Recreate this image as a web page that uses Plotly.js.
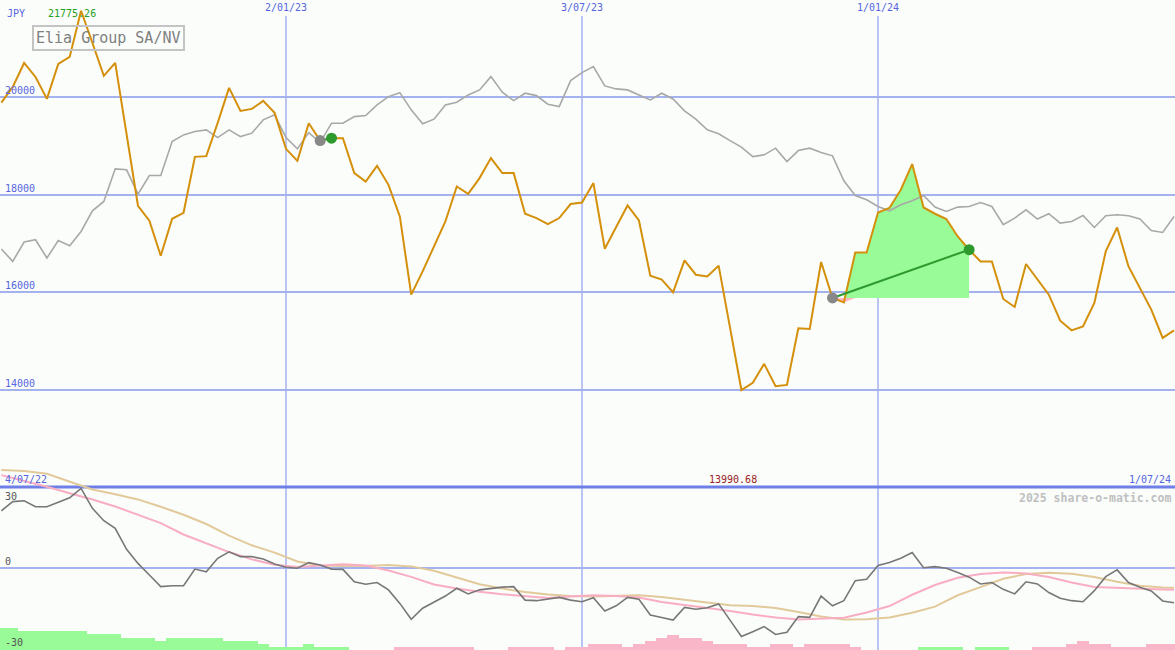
<!DOCTYPE html>
<html>
<head>
<meta charset="utf-8">
<script src="https://cdn.plot.ly/plotly-3.0.1.min.js"></script>
<style>html,body{margin:0;padding:0;background:#fbfdfb;}#chart{width:1175px;height:650px;}</style>
</head>
<body>
<div id="chart"></div>
<script>
// Weekly dates
const weeks = [
'2022-07-11','2022-07-18','2022-07-25','2022-08-01','2022-08-08','2022-08-15','2022-08-22','2022-08-29','2022-09-05','2022-09-12',
'2022-09-19','2022-09-26','2022-10-03','2022-10-10','2022-10-17','2022-10-24','2022-10-31','2022-11-07','2022-11-14','2022-11-21',
'2022-11-28','2022-12-05','2022-12-12','2022-12-19','2022-12-26',
'2023-01-02','2023-01-09','2023-01-16','2023-01-23','2023-01-30','2023-02-06','2023-02-13','2023-02-20','2023-02-27','2023-03-06',
'2023-03-13','2023-03-20','2023-03-27','2023-04-03','2023-04-10','2023-04-17','2023-04-24','2023-05-01','2023-05-08','2023-05-15',
'2023-05-22','2023-05-29','2023-06-05','2023-06-12','2023-06-19','2023-06-26','2023-07-03','2023-07-10','2023-07-17','2023-07-24',
'2023-07-31','2023-08-07','2023-08-14','2023-08-21','2023-08-28','2023-09-04','2023-09-11','2023-09-18','2023-09-25','2023-10-02',
'2023-10-09','2023-10-16','2023-10-23','2023-10-30','2023-11-06','2023-11-13','2023-11-20','2023-11-27','2023-12-04','2023-12-11',
'2023-12-18','2023-12-25',
'2024-01-01','2024-01-08','2024-01-15','2024-01-22','2024-01-29','2024-02-05','2024-02-12','2024-02-19','2024-02-26','2024-03-04',
'2024-03-11','2024-03-18','2024-03-25','2024-04-01','2024-04-08','2024-04-15','2024-04-22','2024-04-29','2024-05-06','2024-05-13',
'2024-05-20','2024-05-27','2024-06-03','2024-06-10','2024-06-17','2024-06-24','2024-07-01'];

// Share price (JPY)
const price = [
19889,20211,20703,20416,19965,20683,20826,21775.26,21113,20437,
20703,19233,17772,17464,16747,17505,17628,18776,18790,19473,
20191,19719,19760,19924,19678,18940,18694,19467,19110,19160,
19160,18442,18270,18592,18202,17552,15947,16425,16937,17450,
18167,18018,18340,18750,18442,18442,17608,17520,17397,17520,
17807,17839,18237,16890,17335,17778,17470,16337,16255,15994,
16650,16357,16322,16542,15271,13990.68,14137,14527,14067,14096,
15256,15244,16618,15880,15789,16814,16814,17634,17725,18100,
18627,17737,17608,17499,17142,16870,16630,16630,15859,15695,
16577,16255,15947,15414,15215,15297,15777,16835,17327,16527,
16085,15640,15060,15215];

// Relative (index) line on price scale
const relative = [
16884,16630,17027,17075,16699,17060,16952,17245,17669,17860,
18530,18510,18011,18393,18393,19090,19227,19295,19330,19172,
19330,19192,19262,19535,19637,19172,18940,19274,19069,19467,
19467,19602,19623,19842,20012,20094,19740,19453,19549,19842,
19897,20047,20150,20422,20103,19930,20082,20033,19856,19807,
20340,20504,20627,20232,20170,20150,20047,19945,20082,19965,
19719,19549,19330,19248,19110,18975,18782,18817,18954,18680,
18905,18954,18864,18797,18284,17983,17895,17757,17669,17792,
17874,17983,17745,17655,17745,17757,17839,17757,17382,17519,
17690,17499,17608,17417,17450,17573,17327,17567,17587,17567,
17499,17265,17224,17552];

// Lower panel: momentum (gray)
const momentum = [
21.2,24.6,24.9,22.7,22.7,24.3,26.0,29.5,22.1,17.5,
14.7,6.9,1.7,-2.6,-6.9,-6.6,-6.6,-0.4,-1.4,3.6,
6.0,4.2,4.2,3.3,1.5,0.3,-0.1,2.0,1.1,-0.4,
-0.5,-5.1,-6.0,-5.4,-8.1,-13.1,-19.0,-14.9,-12.5,-10.4,
-7.5,-9.6,-8.1,-7.5,-7.1,-6.9,-11.9,-12.1,-11.6,-10.9,
-11.9,-12.5,-11.0,-15.9,-14.0,-10.9,-11.6,-17.4,-18.3,-19.3,
-14.6,-15.3,-14.7,-13.3,-19.3,-25.4,-23.6,-21.7,-24.6,-23.8,
-18.0,-18.3,-10.4,-14.0,-12.1,-4.7,-4.2,0.9,2.0,3.6,
5.7,0.1,0.5,-0.1,-1.7,-3.4,-5.9,-5.4,-7.9,-9.6,
-5.1,-5.9,-9.1,-11.2,-12.1,-12.5,-8.4,-3.2,-0.7,-5.4,
-7.1,-8.5,-12.2,-12.9];

// Moving averages (read every second week, plus last week)
const maWeekIdx = [0,2,4,6,8,10,12,14,16,18,20,22,24,26,28,30,32,34,36,38,40,42,44,46,48,50,
52,54,56,58,60,62,64,66,68,70,72,74,76,78,80,82,84,86,88,90,92,94,96,98,100,102,103];
const maPink = [34.4,32.3,30.1,27.7,25.4,22.8,19.8,16.6,12.4,9.1,5.9,3.2,1.2,0.4,1.0,1.4,0.9,-0.9,-3.3,-6.1,
-7.6,-8.8,-9.7,-10.4,-11.1,-10.6,-10.1,-10.4,-10.9,-12.6,-13.7,-14.7,-15.9,-17.2,-18.3,-19.1,-18.7,-18.4,-16.5,-14.1,
-9.9,-6.3,-3.6,-2.2,-1.7,-2.0,-3.3,-5.4,-7.0,-7.4,-7.7,-8.0,-8.1];
const maTan = [36.3,35.9,34.9,32.0,29.1,27.3,25.4,22.7,19.7,16.3,12.0,8.4,5.7,2.4,0.9,0.7,0.7,1.1,0.6,-1.0,
-3.4,-6.0,-7.6,-8.9,-9.8,-10.4,-10.6,-10.4,-10.1,-10.7,-11.7,-12.7,-13.8,-14.1,-14.8,-16.3,-18.0,-19.1,-19.0,-18.3,
-16.6,-14.3,-10.1,-7.1,-4.0,-2.2,-1.8,-2.1,-3.3,-5.1,-6.6,-7.2,-7.3];

// Histogram: positive = green, negative = pink
const hist = [
8.3,8.3,7.0,7.0,7.0,7.0,7.0,7.0,5.8,5.8,
5.8,4.6,4.6,4.6,3.4,4.6,4.6,4.6,4.6,4.6,
3.4,3.4,3.4,2.3,1.1,1.1,1.1,2.3,1.1,1.1,
1.1,0,0,0,0,-1.1,-1.1,-1.1,-1.1,-1.1,
-1.1,-1.1,0,0,0,-1.1,-1.1,-1.1,-1.1,0,
-1.1,-1.1,-2.3,-2.3,-2.3,-1.1,-2.3,-3.4,-4.6,-5.7,
-4.6,-4.6,-3.4,-2.3,-2.3,-2.3,-1.1,-1.1,-2.3,-2.3,
-1.1,-2.3,-2.3,-2.3,-2.3,-1.1,0,0,0,0,
0,1.1,1.1,1.1,1.1,0,1.1,1.1,1.1,0,
0,-1.1,-1.1,-1.1,-2.3,-3.4,-2.3,-2.3,-1.1,-1.1,
-1.1,-2.3,-2.3,-2.3];

// Signals: [start week index, end week index]
const signals = [[28,29],[73,85]];

// Axis ticks / labels
const priceTicks = [14000,16000,18000,20000];
const lowerTicks = [30,0,-30];
const dateTicks = ['2023-01-02','2023-07-03','2024-01-01'];
const dateTickText = ['2/01/23','3/07/23','1/01/24'];
const startLabel = '4/07/22', endLabel = '1/07/24';
const currency = 'JPY';
const title = 'Elia Group SA/NV';
const credit = '2025 share-o-matic.com';

const BG = '#fbfdfb';
const BLUE_TXT = '#5566e0';
const GRID = '#a4b2f0';
const MONO = 'DejaVu Sans Mono, Liberation Mono, monospace';
const Y2_BOTTOM = -30.37;

const traces = [];

// signal fills
signals.forEach(([s, e]) => {
  const xs = weeks.slice(s, e + 1);
  const seg = price.slice(s, e + 1);
  const base = seg.map(() => price[s]);
  const up = seg.map(v => Math.max(v, price[s]));
  const dn = seg.map(v => Math.min(v, price[s]));
  traces.push({x: xs, y: base, type: 'scatter', mode: 'lines', line: {width: 0}, hoverinfo: 'skip'});
  traces.push({x: xs, y: up, type: 'scatter', mode: 'lines', line: {width: 0}, fill: 'tonexty', fillcolor: '#98fb98', hoverinfo: 'skip'});
  traces.push({x: xs, y: base, type: 'scatter', mode: 'lines', line: {width: 0}, hoverinfo: 'skip'});
  traces.push({x: xs, y: dn, type: 'scatter', mode: 'lines', line: {width: 0}, fill: 'tonexty', fillcolor: '#ffb6c1', hoverinfo: 'skip'});
});

traces.push({x: weeks, y: relative, type: 'scatter', mode: 'lines', line: {color: '#a8a8a8', width: 1.6}});
traces.push({x: weeks, y: price, type: 'scatter', mode: 'lines', line: {color: '#d4900a', width: 2}});

signals.forEach(([s, e]) => {
  traces.push({x: [weeks[s], weeks[e]], y: [price[s], price[e]], type: 'scatter', mode: 'lines',
    line: {color: '#2e9a2e', width: 2}});
  traces.push({x: [weeks[s]], y: [price[s]], type: 'scatter', mode: 'markers',
    marker: {color: '#888888', size: 11}});
  traces.push({x: [weeks[e]], y: [price[e]], type: 'scatter', mode: 'markers',
    marker: {color: '#2e9a2e', size: 11}});
});

// lower panel
traces.push({x: weeks, y: hist.map(Math.abs), base: Y2_BOTTOM, type: 'bar', yaxis: 'y2',
  width: 7 * 24 * 3600 * 1000,
  marker: {color: hist.map(v => v >= 0 ? '#98fb98' : '#f9b6c9'), line: {width: 0}}});
const maWeeks = maWeekIdx.map(i => weeks[i]);
traces.push({x: maWeeks, y: maTan, type: 'scatter', mode: 'lines', yaxis: 'y2', line: {color: '#e2c99a', width: 2}});
traces.push({x: maWeeks, y: maPink, type: 'scatter', mode: 'lines', yaxis: 'y2', line: {color: '#f9adc3', width: 2}});
traces.push({x: weeks, y: momentum, type: 'scatter', mode: 'lines', yaxis: 'y2', line: {color: '#777777', width: 1.6}});

const annotations = [];
priceTicks.forEach(v => annotations.push({xref: 'paper', x: 0, xanchor: 'left', xshift: 4, yref: 'y', y: v,
  yanchor: 'bottom', yshift: 0, text: String(v), showarrow: false, borderpad: 0,
  font: {family: MONO, size: 10, color: BLUE_TXT}}));
lowerTicks.forEach(v => annotations.push({xref: 'paper', x: 0, xanchor: 'left', xshift: 4, yref: 'y2', y: v,
  yanchor: v > 0 ? 'top' : 'bottom', yshift: v > 0 ? -3 : 0, text: String(v), showarrow: false, borderpad: 0,
  font: {family: MONO, size: 10, color: '#555555'}}));
dateTicks.forEach((d, i) => annotations.push({xref: 'x', x: d, xanchor: 'center', yref: 'paper', y: 1,
  yanchor: 'top', yshift: -1, text: dateTickText[i], showarrow: false, borderpad: 0,
  font: {family: MONO, size: 10, color: BLUE_TXT}}));
const sepY = 1 - 487 / 650;
annotations.push({xref: 'paper', x: 0, xanchor: 'left', xshift: 4, yref: 'paper', y: sepY, yanchor: 'bottom', yshift: 1,
  text: startLabel, showarrow: false, borderpad: 0, font: {family: MONO, size: 10, color: BLUE_TXT}});
annotations.push({xref: 'paper', x: 1, xanchor: 'right', xshift: -3, yref: 'paper', y: sepY, yanchor: 'bottom', yshift: 1,
  text: endLabel, showarrow: false, borderpad: 0, font: {family: MONO, size: 10, color: BLUE_TXT}});
const iMin = price.indexOf(Math.min(...price));
const iMax = price.indexOf(Math.max(...price));
annotations.push({xref: 'x', x: weeks[iMin], xanchor: 'center', xshift: -8, yref: 'paper', y: sepY, yanchor: 'bottom', yshift: 1,
  text: price[iMin].toFixed(2), showarrow: false, borderpad: 0, font: {family: MONO, size: 10, color: '#992222'}});
annotations.push({xref: 'x', x: weeks[iMax], xanchor: 'center', xshift: -9, yref: 'paper', y: 1 - 14 / 650, yanchor: 'middle',
  text: price[iMax].toFixed(2), showarrow: false, borderpad: 0, font: {family: MONO, size: 10, color: '#22a022'}});
annotations.push({xref: 'paper', x: 0, xanchor: 'left', xshift: 6, yref: 'paper', y: 1 - 14 / 650, yanchor: 'middle',
  text: currency, showarrow: false, borderpad: 0, font: {family: MONO, size: 10, color: BLUE_TXT}});
annotations.push({xref: 'paper', x: 32 / 1175, xanchor: 'left', yref: 'paper', y: 1 - 25 / 650, yanchor: 'top',
  text: title, showarrow: false, borderpad: 2, bordercolor: '#c4c4c4', borderwidth: 2,
  font: {family: MONO, size: 15, color: '#808080'}});
annotations.push({xref: 'paper', x: 1, xanchor: 'right', xshift: -3, yref: 'paper', y: 1 - 490 / 650, yanchor: 'top',
  text: '<b>' + credit + '</b>', showarrow: false, borderpad: 0, font: {family: MONO, size: 11.5, color: '#c0c0c0'}});

const shapes = [];
dateTicks.forEach(d => shapes.push({type: 'line', xref: 'x', x0: d, x1: d, yref: 'paper', y0: 0, y1: 1 - 16 / 650,
  line: {color: GRID, width: 1.5}, layer: 'below'}));
shapes.push({type: 'line', xref: 'paper', x0: 0, x1: 1, yref: 'paper', y0: sepY, y1: sepY,
  line: {color: '#6f7fe8', width: 3}, layer: 'below'});

const layout = {
  width: 1175, height: 650,
  margin: {l: 0, r: 0, t: 0, b: 0},
  paper_bgcolor: BG, plot_bgcolor: 'rgba(0,0,0,0)',
  showlegend: false, bargap: 0,
  xaxis: {type: 'date', range: ['2022-07-10 04:00', '2024-07-01 14:00'], showgrid: false, zeroline: false,
    showticklabels: false, ticks: '', showline: false, fixedrange: true},
  yaxis: {domain: [163 / 650, 1], range: [12000, 21995], tickvals: priceTicks, showgrid: true, gridcolor: GRID,
    gridwidth: 2, showticklabels: false, zeroline: false, showline: false, ticks: ''},
  yaxis2: {domain: [0, 195 / 650], range: [Y2_BOTTOM, 41.85], tickvals: [0], showgrid: true, gridcolor: GRID,
    gridwidth: 2, showticklabels: false, zeroline: false, showline: false, ticks: ''},
  annotations: annotations, shapes: shapes
};

Plotly.newPlot('chart', traces, layout, {displayModeBar: false, staticPlot: true});
</script>
</body>
</html>
